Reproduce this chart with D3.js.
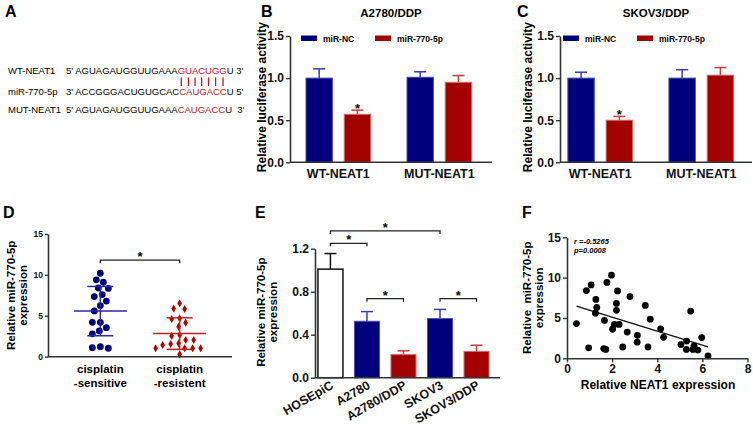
<!DOCTYPE html>
<html><head><meta charset="utf-8">
<script src="https://cdn.jsdelivr.net/npm/d3@7"></script>
<style>
body{margin:0;background:#fff;}
text{font-family:Arial,"Liberation Sans",Helvetica,sans-serif;}
</style></head><body>
<script>
// ================= DATA =================
// Panel A: sequences
const seqNames = ["WT-NEAT1", "miR-770-5p", "MUT-NEAT1"];
const seqHead  = ["5' AGUAGAUGGUUGAAA", "3' ACCGGGACUGUGCAC", "5' AGUAGAUGGUUGAAA"];
const seqSite  = ["GUACUGG", "CAUGACC", "CAUGACC"];
const seqTail  = ["U 3'", "U 5'", "U  3'"];

// Panels B, C: luciferase
const lucGroups = ["WT-NEAT1", "MUT-NEAT1"];
const lucSeries = ["miR-NC", "miR-770-5p"];
const lucTicks  = [0, 0.5, 1.0, 1.5];
const a2780NC   = [1.00, 1.01], a2780NCsd  = [0.11, 0.065];
const a2780Mir  = [0.57, 0.95], a2780MirSd = [0.05, 0.08];
const skov3NC   = [1.00, 1.00], skov3NCsd  = [0.07, 0.10];
const skov3Mir  = [0.50, 1.035], skov3MirSd = [0.045, 0.09];
const lucSig    = ["*", ""];   // significance over miR-770-5p bar per group

// Panel D: clinical samples
const clinGroups = [["cisplatin", "-sensitive"], ["cisplatin", "-resistent"]];
const sensitiveExpr = [10.2, 9.4, 9.1, 8.4, 8.35, 7.6, 7.35, 6.8, 6.25, 5.6, 4.2, 4.2, 3.55, 3.15, 2.8, 1.22, 1.03, 1.1];
const resistantExpr = [6.53, 5.9, 5.83, 4.69, 4.61, 4.16, 3.67, 2.65, 2.53, 2.04, 2.04, 1.63, 1.55, 1.43, 1.03, 1.03, 1.03, 1.03, 0.29];
const clinTicks = [0, 5, 10, 15];

// Panel E: cell lines
const eCells = ["HOSEpiC", "A2780", "A2780/DDP", "SKOV3", "SKOV3/DDP"];
const eMean  = [1.01, 0.525, 0.215, 0.55, 0.245];
const eSd    = [0.145, 0.09, 0.035, 0.085, 0.057];
const eType  = ["normal", "parent", "resistant", "parent", "resistant"];
const eTicks = [0, 0.4, 0.8, 1.2];
const eBracketFrom  = [0, 0, 1, 3];
const eBracketTo    = [3, 1, 2, 4];
const eBracketLevel = [1.365, 1.25, 0.735, 0.735];

// Panel F: correlation
const neat1Expr = [0.42, 0.86, 0.96, 1.07, 1.28, 1.32, 1.26, 1.66, 1.63, 1.72, 1.77, 1.97, 2.19, 2.24, 2.19, 2.02, 2.1, 2.31, 2.47, 2.67, 2.79, 3.12, 3.11, 3.47, 3.59, 3.69, 4.15, 4.28, 5.05, 5.3, 5.29, 5.48, 5.63, 5.58, 5.8, 5.97, 6.25];
const mirExpr   = [4.3, 8.4, 1.3, 9.1, 7.3, 6.3, 5.6, 4.7, 1.2, 1.1, 9.4, 10.3, 6.8, 8.35, 5.95, 3.6, 4.2, 4.2, 1.4, 3.25, 7.65, 2.85, 2.0, 6.55, 1.4, 4.85, 3.65, 2.6, 1.7, 2.13, 1.1, 5.85, 1.55, 1.1, 1.02, 2.57, 0.3];
const fXTicks = [0, 2, 4, 6, 8];
const fYTicks = [0, 5, 10, 15];
const fStats  = ["r =-0.5265", "p=0.0008"];

// ================= STYLE =================
const NAVY = "#00007d", NAVY_EDGE = "#4a4ab8", NAVY_ERR = "#3c3cb0";
const RED = "#a30000", RED_EDGE = "#d46a6a", RED_ERR = "#cc3c3c";
const AXIS = "#333";
const SEQRED = "#c0161c";

const svg = d3.select("body").append("svg").attr("width", 753).attr("height", 428);

function letter(t, x, y) {
  svg.append("text").attr("x", x).attr("y", y).attr("font-size", 16).attr("font-weight", "bold").text(t);
}
function styleAxis(g, fs) {
  g.select(".domain").attr("stroke", AXIS).attr("stroke-width", 1.6);
  g.selectAll(".tick line").attr("stroke", AXIS).attr("stroke-width", 1.4);
  g.selectAll(".tick text").attr("fill", "#111").attr("font-size", fs).attr("font-weight", "bold")
    .attr("font-family", 'Arial,"Liberation Sans",sans-serif');
}

// ================= PANEL A =================
letter("A", 5, 17);
const rowY = [74, 95, 113];
const seqTexts = [];
seqNames.forEach((n, i) => {
  svg.append("text").attr("x", 8).attr("y", rowY[i]).attr("font-size", 9.5).text(n);
  const t = svg.append("text").attr("x", 66).attr("y", rowY[i]).attr("font-size", 9.5).style("white-space", "pre");
  t.append("tspan").text(seqHead[i]);
  t.append("tspan").attr("fill", SEQRED).text(seqSite[i]);
  t.append("tspan").text(seqTail[i]);
  seqTexts.push(t);
});
{
  const t = seqTexts[0].node();
  const off = seqHead[0].length;
  for (let k = 0; k < seqSite[0].length; k++) {
    const a = t.getStartPositionOfChar(off + k).x, b = t.getEndPositionOfChar(off + k).x;
    const cx = (a + b) / 2;
    svg.append("line").attr("x1", cx).attr("x2", cx).attr("y1", rowY[0] + 3.5).attr("y2", rowY[1] - 9)
      .attr("stroke", SEQRED).attr("stroke-width", 1.3);
  }
}

// ================= PANELS B, C =================
function lucPanel(o) {
  const g = svg.append("g");
  const y = d3.scaleLinear().domain([0, 1.5]).range([162.3, 36]);
  const x0 = d3.scaleBand().domain(lucGroups).range([o.left, o.right]).paddingInner(0.36).paddingOuter(o.po).align(o.align);
  const x1 = d3.scaleBand().domain(lucSeries).range([0, x0.bandwidth()]).paddingInner(0.31);
  const series = [
    {name: lucSeries[0], v: o.nc, e: o.ncSd, fill: NAVY, edge: NAVY_EDGE, err: NAVY_ERR},
    {name: lucSeries[1], v: o.mir, e: o.mirSd, fill: RED, edge: RED_EDGE, err: RED_ERR}
  ];
  lucGroups.forEach((grp, gi) => {
    series.forEach(s => {
      const bx = x0(grp) + x1(s.name), bw = x1.bandwidth(), cx = bx + bw / 2;
      const top = y(s.v[gi]), et = y(s.v[gi] + s.e[gi]);
      g.append("line").attr("x1", cx).attr("x2", cx).attr("y1", top).attr("y2", et).attr("stroke", s.err).attr("stroke-width", 1.5);
      g.append("line").attr("x1", cx - 6).attr("x2", cx + 6).attr("y1", et).attr("y2", et).attr("stroke", s.err).attr("stroke-width", 1.5);
      g.append("rect").attr("x", bx).attr("y", top).attr("width", bw).attr("height", y(0) - top)
        .attr("fill", s.fill).attr("stroke", s.edge).attr("stroke-width", 1);
      if (s.name === lucSeries[1] && lucSig[gi]) {
        g.append("text").attr("x", cx).attr("y", et + 2.5).attr("text-anchor", "middle")
          .attr("font-size", 13).attr("font-weight", "bold").text(lucSig[gi]);
      }
    });
  });
  const ya = g.append("g").attr("transform", `translate(${o.left},0)`)
    .call(d3.axisLeft(y).tickValues(lucTicks).tickFormat(d3.format(".1f")).tickSize(4).tickSizeOuter(0).tickPadding(2));
  styleAxis(ya, 12);
  const xa = g.append("g").attr("transform", `translate(0,${y(0)})`)
    .call(d3.axisBottom(x0).tickSize(0).tickPadding(7));
  xa.select(".domain").attr("d", `M${o.left},0H${o.axisEnd}`);
  styleAxis(xa, 12.5);
  // legend
  series.forEach((s, i) => {
    g.append("rect").attr("x", o.legX[i]).attr("y", 35.5).attr("width", 16).attr("height", 5.5).attr("fill", s.fill);
    g.append("text").attr("x", o.legX[i] + 22).attr("y", 41.5).attr("font-size", 8.5).attr("font-weight", "bold").text(s.name);
  });
  g.append("text").attr("x", (o.left + o.axisEnd) / 2).attr("y", 17).attr("text-anchor", "middle")
    .attr("font-size", 11.5).attr("font-weight", "bold").text(o.title);
  g.append("text").attr("transform", `translate(${o.left - o.labOff},${(y(0) + y(1.5)) / 2 - 2}) rotate(-90)`)
    .attr("text-anchor", "middle").attr("font-size", 12).attr("font-weight", "bold").text("Relative luciferase activity");
}
letter("B", 261, 17);
lucPanel({left: 290, right: 492, axisEnd: 492, po: 0.18, align: 0.44, title: "A2780/DDP", labOff: 24,
  nc: a2780NC, ncSd: a2780NCsd, mir: a2780Mir, mirSd: a2780MirSd, legX: [301, 375]});
letter("C", 517, 17);
lucPanel({left: 560, right: 752, axisEnd: 752, po: 0.13, align: 0.3, title: "SKOV3/DDP", labOff: 28,
  nc: skov3NC, ncSd: skov3NCsd, mir: skov3Mir, mirSd: skov3MirSd, legX: [563, 637]});

// ================= PANEL D =================
letter("D", 3, 218);
{
  const g = svg.append("g");
  const y = d3.scaleLinear().domain([0, 15]).range([356.7, 234]);
  const x = d3.scalePoint().domain([0, 1]).range([48, 232]).padding(0.66).align(0.5);
  const groups = [
    {vals: sensitiveExpr, color: NAVY, line: "#2a2aa0", shape: "circle"},
    {vals: resistantExpr, color: "#b00000", line: "#c02020", shape: "diamond"}
  ];
  const r = 3.4;
  function swarm(vals, cx) {
    const order = d3.range(vals.length).sort((a, b) => vals[b] - vals[a]);
    const placed = [], out = new Array(vals.length);
    for (const i of order) {
      const py = y(vals[i]);
      for (let k = 0; k < 60; k++) {
        const off = (k % 2 ? -1 : 1) * Math.ceil(k / 2) * 1.0;
        const px = cx + off;
        if (placed.every(p => Math.hypot(p[0] - px, p[1] - py) >= 2 * r + 0.6)) {
          placed.push([px, py]); out[i] = [px, py]; break;
        }
      }
    }
    return out;
  }
  groups.forEach((grp, gi) => {
    const cx = x(gi);
    const pts = swarm(grp.vals, cx);
    pts.forEach(p => {
      if (grp.shape === "circle") g.append("circle").attr("cx", p[0]).attr("cy", p[1]).attr("r", r).attr("fill", grp.color);
      else g.append("path").attr("d", d3.symbol(d3.symbolDiamond, 19)()).attr("transform", `translate(${p[0]},${p[1]})`).attr("fill", grp.color);
    });
    const m = d3.mean(grp.vals), sd = d3.deviation(grp.vals);
    g.append("line").attr("x1", cx - 26.5).attr("x2", cx + 26.5).attr("y1", y(m)).attr("y2", y(m)).attr("stroke", grp.line).attr("stroke-width", 1.5);
    g.append("line").attr("x1", cx).attr("x2", cx).attr("y1", y(m + sd)).attr("y2", y(m - sd)).attr("stroke", grp.line).attr("stroke-width", 1.5);
    [m + sd, m - sd].forEach(v => g.append("line").attr("x1", cx - 13).attr("x2", cx + 13).attr("y1", y(v)).attr("y2", y(v)).attr("stroke", grp.line).attr("stroke-width", 1.5));
    clinGroups[gi].forEach((ln, li) => g.append("text").attr("x", cx).attr("y", 373 + li * 13.5).attr("text-anchor", "middle")
      .attr("font-size", 11.5).attr("font-weight", "bold").text(ln));
  });
  // bracket
  const by = y(11.8);
  g.append("path").attr("d", `M${x(0)},${by + 3}V${by}H${x(1)}V${by + 3}`).attr("fill", "none").attr("stroke", "#222").attr("stroke-width", 1.3);
  g.append("text").attr("x", (x(0) + x(1)) / 2).attr("y", by + 1).attr("text-anchor", "middle").attr("font-size", 13).attr("font-weight", "bold").text("*");
  const ya = g.append("g").attr("transform", "translate(48,0)")
    .call(d3.axisLeft(y).tickValues(clinTicks).tickSize(3).tickSizeOuter(0).tickPadding(2));
  styleAxis(ya, 8.5);
  g.append("line").attr("x1", 48).attr("x2", 232).attr("y1", y(0)).attr("y2", y(0)).attr("stroke", AXIS).attr("stroke-width", 1.6);
  const lab = g.append("text").attr("transform", `translate(15,${(y(0) + y(15)) / 2}) rotate(-90)`).attr("text-anchor", "middle")
    .attr("font-size", 11.5).attr("font-weight", "bold");
  lab.append("tspan").attr("x", 0).attr("dy", 0).text("Relative miR-770-5p");
  lab.append("tspan").attr("x", 0).attr("dy", 11.5).text("expression");
}

// ================= PANEL E =================
letter("E", 255, 218);
{
  const g = svg.append("g");
  const y = d3.scaleLinear().domain([0, 1.2]).range([377.7, 248.7]);
  const x = d3.scaleBand().domain(eCells).range([315, 500]).paddingInner(0.315).paddingOuter(0.19).align(0.21);
  const col = {normal: ["#fff", "#111", "#111"], parent: [NAVY, NAVY_EDGE, NAVY_ERR], resistant: [RED, RED_EDGE, RED_ERR]};
  eCells.forEach((c, i) => {
    const [f, e, er] = col[eType[i]];
    const bx = x(c), bw = x.bandwidth(), cx = bx + bw / 2;
    const top = y(eMean[i]), et = y(eMean[i] + eSd[i]);
    g.append("line").attr("x1", cx).attr("x2", cx).attr("y1", top).attr("y2", et).attr("stroke", er).attr("stroke-width", 1.5);
    g.append("line").attr("x1", cx - 6).attr("x2", cx + 6).attr("y1", et).attr("y2", et).attr("stroke", er).attr("stroke-width", 1.5);
    g.append("rect").attr("x", bx).attr("y", top).attr("width", bw).attr("height", y(0) - top)
      .attr("fill", f).attr("stroke", e).attr("stroke-width", eType[i] === "normal" ? 1.5 : 1);
  });
  eBracketFrom.forEach((a, k) => {
    const x1 = x(eCells[a]) + x.bandwidth() / 2, x2 = x(eCells[eBracketTo[k]]) + x.bandwidth() / 2, by = y(eBracketLevel[k]);
    g.append("path").attr("d", `M${x1},${by + 3}V${by}H${x2}V${by + 3}`).attr("fill", "none").attr("stroke", "#222").attr("stroke-width", 1.3);
    g.append("text").attr("x", (x1 + x2) / 2).attr("y", by + 1).attr("text-anchor", "middle").attr("font-size", 13).attr("font-weight", "bold").text("*");
  });
  const ya = g.append("g").attr("transform", "translate(315,0)")
    .call(d3.axisLeft(y).tickValues(eTicks).tickFormat(d3.format(".1f")).tickSize(4).tickSizeOuter(0).tickPadding(2));
  styleAxis(ya, 12);
  const xa = g.append("g").attr("transform", `translate(0,${y(0)})`).call(d3.axisBottom(x).tickSize(0).tickPadding(0));
  xa.select(".domain").attr("d", "M315,0H500");
  styleAxis(xa, 12.5);
  xa.selectAll(".tick text").attr("text-anchor", "end").attr("dy", null).attr("y", 0)
    .attr("transform", "translate(4,10) rotate(-30)");
  const lab = g.append("text").attr("transform", `translate(265,${(y(0) + y(1.2)) / 2 - 1}) rotate(-90)`).attr("text-anchor", "middle")
    .attr("font-size", 11.5).attr("font-weight", "bold");
  lab.append("tspan").attr("x", 0).attr("dy", 0).text("Relative miR-770-5p");
  lab.append("tspan").attr("x", 0).attr("dy", 11.5).text("expression");
}

// ================= PANEL F =================
letter("F", 522, 218);
{
  const g = svg.append("g");
  const x = d3.scaleLinear().domain([0, 8]).range([567, 747.5]);
  const y = d3.scaleLinear().domain([0, 15]).range([358.3, 237.3]);
  const mx = d3.mean(neat1Expr), my = d3.mean(mirExpr);
  const sxy = d3.sum(neat1Expr, (v, i) => (v - mx) * (mirExpr[i] - my));
  const sxx = d3.sum(neat1Expr, v => (v - mx) * (v - mx));
  const slope = sxy / sxx, icpt = my - slope * mx;
  const [xmin, xmax] = d3.extent(neat1Expr);
  g.append("line").attr("x1", x(xmin)).attr("x2", x(xmax)).attr("y1", y(icpt + slope * xmin)).attr("y2", y(icpt + slope * xmax))
    .attr("stroke", "#111").attr("stroke-width", 1.3);
  neat1Expr.forEach((v, i) => g.append("circle").attr("cx", x(v)).attr("cy", y(mirExpr[i])).attr("r", 3.4).attr("fill", "#000"));
  const ya = g.append("g").attr("transform", "translate(567,0)")
    .call(d3.axisLeft(y).tickValues(fYTicks).tickSize(4).tickSizeOuter(0).tickPadding(2));
  styleAxis(ya, 12);
  const xa = g.append("g").attr("transform", `translate(0,${y(0)})`)
    .call(d3.axisBottom(x).tickValues(fXTicks).tickSize(4).tickSizeOuter(0).tickPadding(2));
  styleAxis(xa, 12);
  fStats.forEach((s, i) => g.append("text").attr("x", 574).attr("y", 244 + i * 9).attr("font-size", 7.5)
    .attr("font-weight", "bold").attr("font-style", "italic").text(s));
  g.append("text").attr("x", 658).attr("y", 389).attr("text-anchor", "middle").attr("font-size", 12).attr("font-weight", "bold")
    .text("Relative NEAT1 expression");
  const lab = g.append("text").attr("transform", `translate(531,${(y(0) + y(15)) / 2}) rotate(-90)`).attr("text-anchor", "middle")
    .attr("font-size", 11.5).attr("font-weight", "bold").style("white-space", "pre");
  lab.append("tspan").attr("x", 0).attr("dy", 0).text("Relative  miR-770-5p");
  lab.append("tspan").attr("x", 0).attr("dy", 11.5).text("expression");
}
</script>
</body></html>
